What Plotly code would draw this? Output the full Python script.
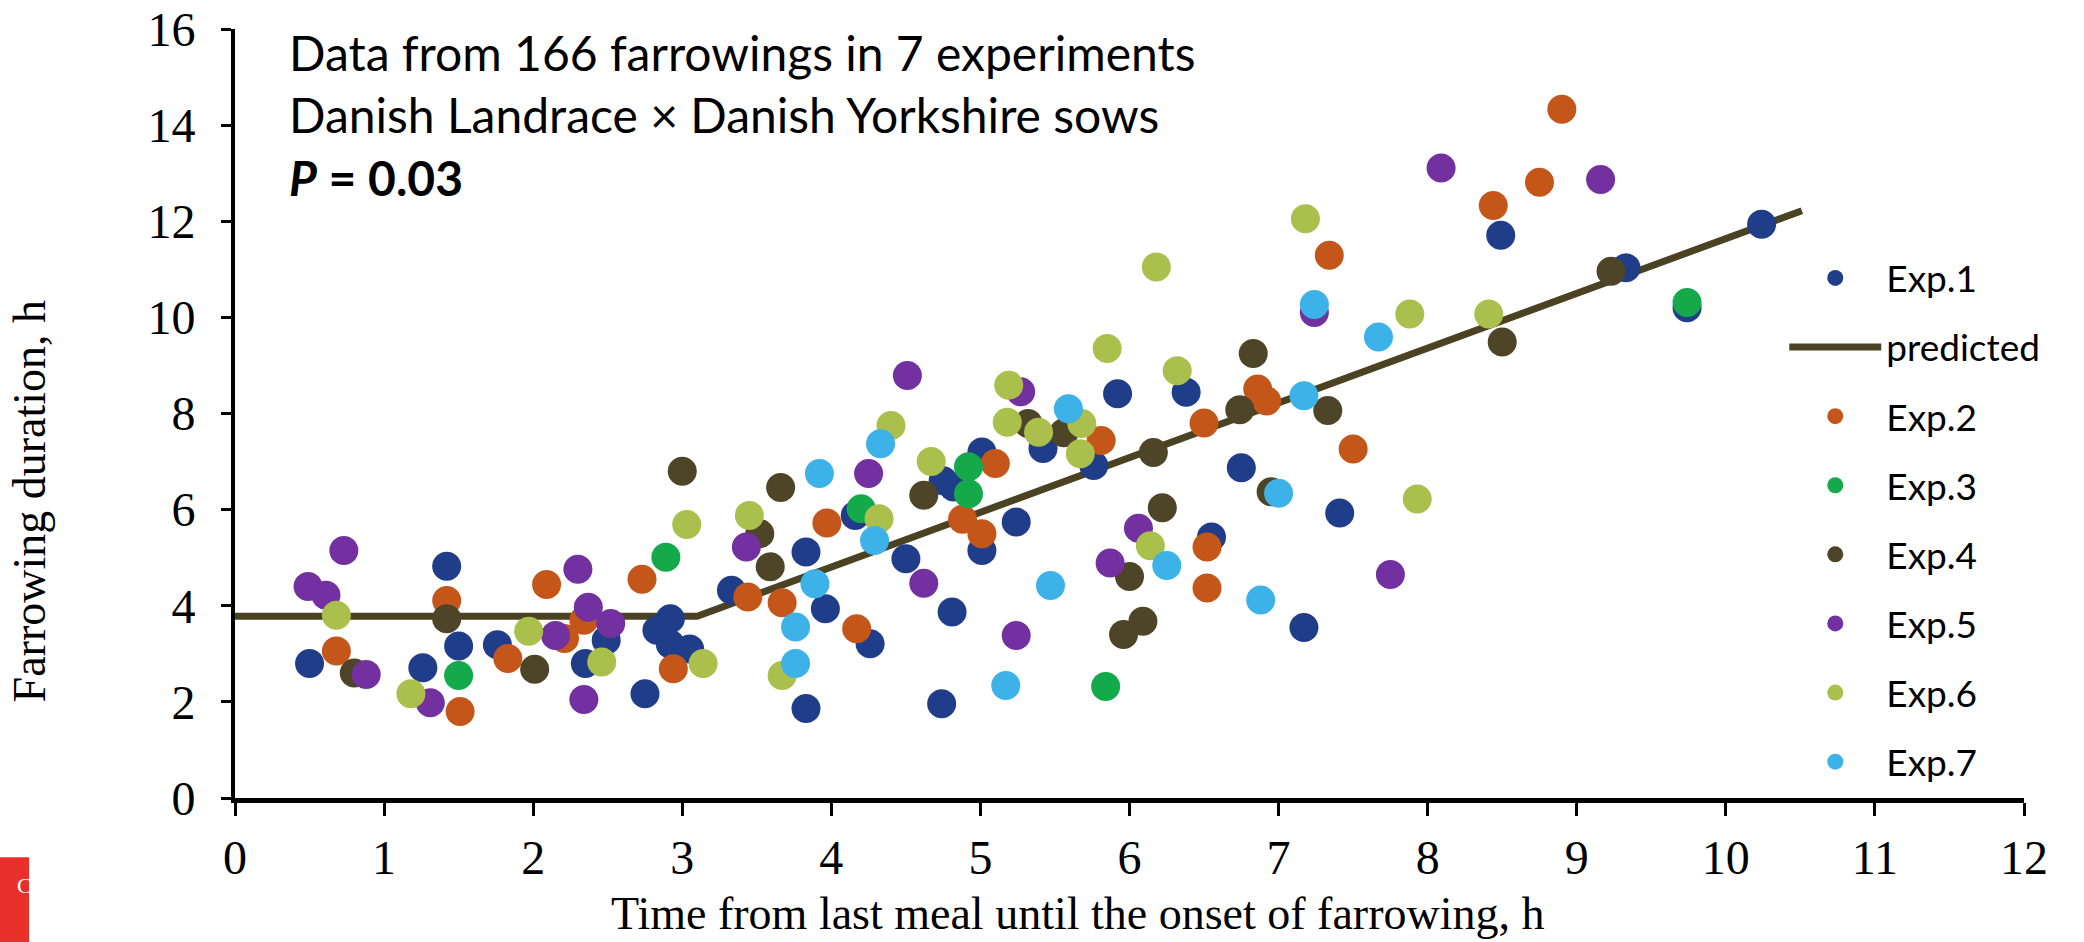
import plotly.graph_objects as go

# ---------------- data ----------------
exp1_x = [0.50, 1.42, 1.50, 1.26, 1.76, 2.49, 2.35, 2.75, 2.92, 2.83, 2.92, 3.05, 3.33, 3.83, 3.96, 3.83,
          4.16, 4.50, 4.26, 4.81, 4.74, 5.24, 5.01, 5.01, 4.82, 4.75, 5.92, 5.42, 5.76, 6.38, 6.75, 7.41,
          6.55, 7.17, 8.49, 9.33, 10.24, 9.74]
exp1_y = [2.80, 4.82, 3.16, 2.71, 3.19, 3.28, 2.80, 2.17, 3.73, 3.49, 3.20, 3.10, 4.32, 5.12, 3.94, 1.86,
          5.88, 4.98, 3.21, 3.87, 1.96, 5.74, 5.15, 7.20, 6.47, 6.60, 8.41, 7.27, 6.92, 8.44, 6.87, 5.93,
          5.43, 3.55, 11.71, 11.03, 11.94, 10.20]

exp2_x = [0.68, 1.42, 1.51, 1.83, 2.09, 2.21, 2.34, 2.73, 2.94, 3.97, 3.44, 3.67, 4.17, 4.88, 5.01, 5.10,
          5.81, 6.86, 6.92, 6.50, 7.50, 6.52, 6.52, 8.90, 8.75, 8.44, 7.34]
exp2_y = [3.06, 4.11, 1.80, 2.90, 4.44, 3.32, 3.70, 4.55, 2.69, 5.72, 4.18, 4.06, 3.52, 5.80, 5.50, 6.96,
          7.44, 8.51, 8.26, 7.80, 7.26, 5.22, 4.37, 14.33, 12.81, 12.33, 11.29]

exp3_x = [1.50, 2.89, 4.20, 4.92, 4.92, 5.84, 9.74]
exp3_y = [2.55, 5.01, 6.02, 6.33, 6.89, 2.32, 10.31]

exp4_x = [0.80, 1.42, 2.01, 3.00, 3.66, 3.52, 3.59, 4.62, 5.32, 5.56, 6.00, 5.96, 6.09, 6.83, 6.74, 7.33,
          6.16, 6.95, 6.22, 8.50, 9.23]
exp4_y = [2.60, 3.73, 2.68, 6.80, 6.46, 5.50, 4.81, 6.30, 7.79, 7.60, 4.61, 3.40, 3.68, 9.25, 8.08, 8.06,
          7.19, 6.37, 6.04, 9.49, 10.96]

exp5_x = [0.73, 0.49, 0.61, 0.88, 1.31, 2.30, 2.15, 2.37, 2.52, 2.34, 3.43, 4.25, 4.62, 5.24, 5.87, 6.06,
          4.51, 5.27, 7.24, 7.75, 8.09, 9.16]
exp5_y = [5.15, 4.40, 4.22, 2.57, 1.98, 4.76, 3.38, 3.97, 3.63, 2.05, 5.22, 6.75, 4.47, 3.38, 4.89, 5.61,
          8.79, 8.45, 10.10, 4.65, 13.11, 12.87]

exp6_x = [0.68, 1.18, 1.97, 2.46, 3.03, 3.14, 3.45, 3.67, 4.40, 4.32, 4.67, 5.19, 5.18, 5.39, 5.68, 5.67,
          6.32, 7.93, 6.14, 7.88, 8.41, 7.18, 6.18, 5.85]
exp6_y = [3.80, 2.17, 3.47, 2.83, 5.69, 2.80, 5.88, 2.55, 7.75, 5.81, 7.00, 8.59, 7.82, 7.61, 7.79, 7.16,
          8.89, 6.22, 5.25, 10.07, 10.07, 12.05, 11.05, 9.35]

exp7_x = [3.92, 3.89, 3.76, 3.76, 4.33, 4.29, 5.17, 5.47, 5.59, 7.24, 7.67, 7.17, 7.00, 6.25, 6.88]
exp7_y = [6.75, 4.46, 3.56, 2.80, 7.37, 5.36, 2.34, 4.42, 8.10, 10.27, 9.59, 8.37, 6.34, 4.84, 4.12]

# broken-line prediction: plateau then linear increase
pred_x = [0.0, 3.10, 10.51]
pred_y = [3.78, 3.78, 12.22]

x_ticks = list(range(0, 13))
y_ticks = list(range(0, 17, 2))

series = [
    ("Exp.1", exp1_x, exp1_y, "#1F3D88", 1),
    ("Exp.2", exp2_x, exp2_y, "#C4561A", 3),
    ("Exp.3", exp3_x, exp3_y, "#14AA4B", 4),
    ("Exp.4", exp4_x, exp4_y, "#4E4427", 5),
    ("Exp.5", exp5_x, exp5_y, "#7230A0", 6),
    ("Exp.6", exp6_x, exp6_y, "#AABF4C", 7),
    ("Exp.7", exp7_x, exp7_y, "#3CB2E8", 8),
]

fig = go.Figure()

fig.add_trace(go.Scatter(
    x=pred_x, y=pred_y, mode="lines", name="predicted",
    line=dict(color="#4A4222", width=7),
    legendrank=2, legendgroup="pred",
))

for name, xs, ys, col, rank in series:
    fig.add_trace(go.Scatter(
        x=xs, y=ys, mode="markers", name=name,
        marker=dict(color=col, size=29, line=dict(width=0)),
        legendrank=rank, legendgroup=name,
    ))

serif = "Liberation Serif, Times New Roman, serif"
sans = "Lato, Carlito, Calibri, sans-serif"

fig.update_layout(
    width=2084, height=942,
    margin=dict(l=235, r=60, t=29, b=144),
    paper_bgcolor="white", plot_bgcolor="white",
    font=dict(family=serif, color="black"),
    xaxis=dict(
        range=[0, 12], tickvals=x_ticks, ticktext=[str(v) for v in x_ticks],
        showgrid=False, zeroline=False,
        showline=True, linecolor="black", linewidth=5,
        ticks="outside", ticklen=13, tickwidth=3, tickcolor="black",
        tickfont=dict(family=serif, size=48, color="black"),
        automargin=False,
    ),
    yaxis=dict(
        range=[0, 16], tickvals=y_ticks, ticktext=[str(v) for v in y_ticks],
        showgrid=False, zeroline=False,
        showline=True, linecolor="black", linewidth=4,
        ticks="outside", ticklen=10, tickwidth=3, tickcolor="black",
        tickfont=dict(family=serif, size=48, color="black"),
        ticklabelstandoff=16,
        automargin=False,
    ),
    legend=dict(
        x=0.866, y=0.716, xanchor="left", yanchor="top",
        bgcolor="rgba(0,0,0,0)", borderwidth=0,
        font=dict(family=sans, size=37, color="black"),
        itemwidth=92, tracegroupgap=18, traceorder="grouped",
        itemsizing="trace",
    ),
    showlegend=True,
)

# axis titles (placed as in the reference, slightly off-centre)
fig.add_annotation(
    xref="paper", yref="paper", x=0.471, y=-0.1865, xanchor="center", yanchor="bottom",
    text="Time from last meal until the onset of farrowing, h", showarrow=False,
    font=dict(family=serif, size=46, color="black"),
)
fig.add_annotation(
    xref="paper", yref="paper", x=-0.115, y=0.386, xanchor="center", yanchor="middle",
    text="Farrowing duration, h", showarrow=False, textangle=-90,
    font=dict(family=serif, size=46, color="black"),
)

fig.add_annotation(
    xref="paper", yref="paper", x=0.029, y=1.009, xanchor="left", yanchor="top",
    align="left", showarrow=False,
    text="Data from 166 farrowings in 7 experiments<br>"
         "Danish Landrace × Danish Yorkshire sows<br>"
         "<b><i>P</i> = 0.03</b>",
    font=dict(family=sans, size=48, color="black"),
)

# cropped red logo in the lower-left corner
fig.add_shape(type="rect", xref="paper", yref="paper",
              x0=-0.1314, x1=-0.1151, y0=-0.19, y1=-0.0771,
              fillcolor="#E8302A", line=dict(width=0), layer="above")
fig.add_annotation(xref="paper", yref="paper", x=-0.1232, y=-0.133,
                   text="C", showarrow=False,
                   font=dict(family=serif, size=22, color="white"))

fig.write_html("out.html")
